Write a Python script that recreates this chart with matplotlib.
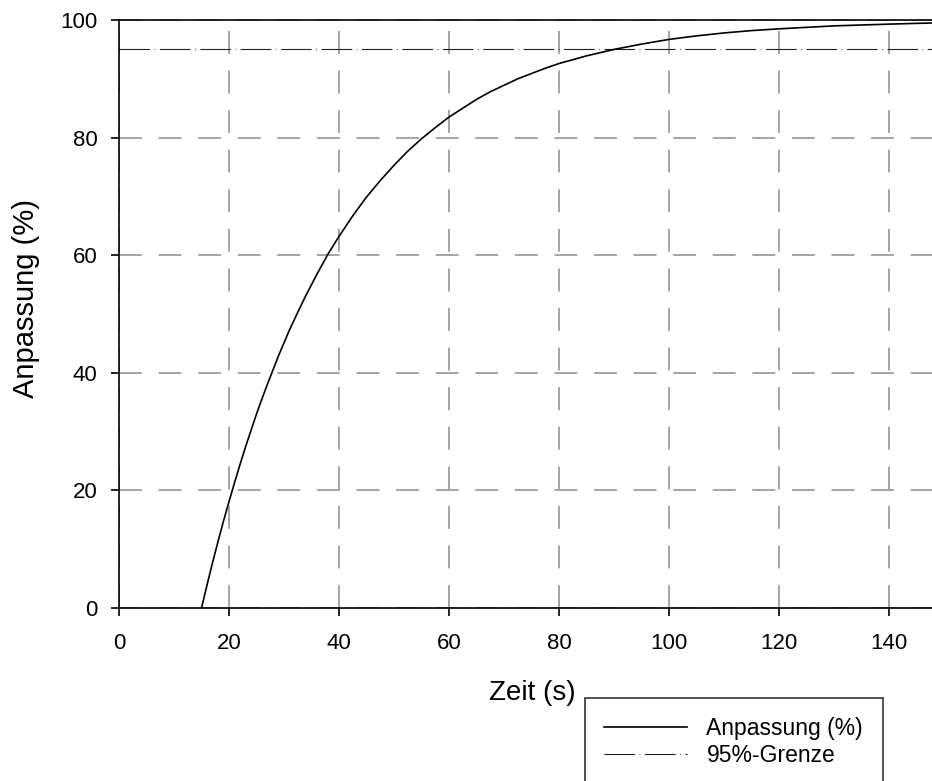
import matplotlib
matplotlib.use("Agg")
import matplotlib.pyplot as plt

plt.rcParams['font.family'] = ['Liberation Sans', 'DejaVu Sans']
plt.rcParams['lines.scale_dashes'] = False

# Data
zeit = [15, 16, 17, 18, 19, 20, 21, 22, 23, 24, 25, 26, 27, 28, 29, 30, 31, 32.5,
        34, 36, 38, 40, 42.5, 45, 47.5, 50, 52.5, 55, 57.5, 60, 62.5, 65, 67.5,
        70, 72.5, 75, 77.5, 80, 85, 90, 95, 100, 105, 110, 115, 120, 130, 140, 148]
anpassung = [0.0, 3.9, 7.7, 11.3, 14.8, 18.1, 21.3, 24.4, 27.4, 30.2, 33.0, 35.6,
             38.1, 40.5, 42.9, 45.1, 47.3, 50.3, 53.2, 56.8, 60.2, 63.2, 66.7,
             69.9, 72.7, 75.3, 77.7, 79.8, 81.7, 83.5, 85.0, 86.5, 87.8, 88.9,
             90.0, 90.9, 91.8, 92.6, 93.9, 95.0, 95.9, 96.7, 97.3, 97.8, 98.2,
             98.5, 99.0, 99.3, 99.5]
grenze_wert = 95
x_ticks = [0, 20, 40, 60, 80, 100, 120, 140]
y_ticks = [0, 20, 40, 60, 80, 100]
x_label = "Zeit (s)"
y_label = "Anpassung (%)"
label_curve = "Anpassung (%)"
label_limit = "95%-Grenze"

fig = plt.figure(figsize=(9.32, 7.81), dpi=100)
ax = fig.add_axes([119/932, 1-608/781, 1-119/932, (608-20)/781])

ax.plot(zeit, anpassung, color='black', lw=1.2, label=label_curve, zorder=3)
ax.axhline(grenze_wert, color='#222222', lw=0.8, linestyle=(0, (22, 3.3, 0.5, 3.3)),
           label=label_limit, zorder=2)

ax.set_xlim(0, 147.8)
ax.set_ylim(0, 100)
ax.set_xticks(x_ticks)
ax.set_yticks(y_ticks)
ax.grid(True, color='#8c8c8c', lw=1.1, linestyle=(0, (16.5, 12)))
ax.set_axisbelow(True)

for s in ['left', 'bottom', 'top']:
    ax.spines[s].set_linewidth(1.2)
    ax.spines[s].set_color('black')
ax.spines['right'].set_visible(False)

ax.tick_params(axis='both', direction='out', length=6, width=1.2, labelsize=16,
               colors='black')
ax.tick_params(axis='x', pad=12)
ax.tick_params(axis='y', pad=9.5)
ax.tick_params(top=False, right=False)

ax.set_xlabel(x_label, fontsize=20)
ax.set_ylabel(y_label, fontsize=21)
ax.xaxis.set_label_coords(0.508, -0.122)
ax.yaxis.set_label_coords(-0.097, 0.526)

leg = fig.legend(loc='upper left', bbox_to_anchor=(585/932, 1-698/781),
                 fontsize=16.5, frameon=True, fancybox=False, edgecolor='black',
                 handlelength=3.6, handletextpad=0.85, borderpad=0.85,
                 labelspacing=0.15, borderaxespad=0)
leg.get_frame().set_linewidth(1.2)

fig.savefig("out.png", dpi=100)
